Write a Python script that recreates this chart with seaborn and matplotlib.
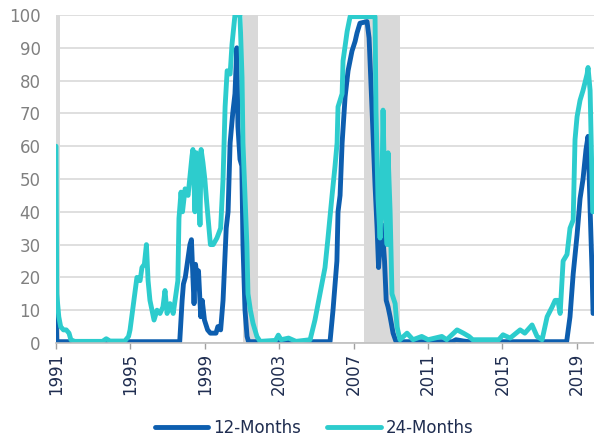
import pandas as pd
import matplotlib
matplotlib.use("Agg")
import matplotlib.pyplot as plt
import seaborn as sns

# 12-month recession probability
m12_year = [1991.00, 1991.04, 1997.65, 1997.78, 1997.85, 1997.95, 1998.05, 1998.20, 1998.28,
            1998.36, 1998.42, 1998.50, 1998.58, 1998.66, 1998.78, 1998.86, 1998.98, 1999.15,
            1999.30, 1999.60, 1999.70, 1999.85, 1999.98, 2000.15, 2000.25, 2000.36, 2000.50,
            2000.62, 2000.72, 2000.78, 2000.89, 2000.99, 2001.05, 2001.16, 2001.27, 2001.35,
            2005.73, 2005.89, 2006.10, 2006.16, 2006.27, 2006.38, 2006.54, 2006.70, 2006.91,
            2007.08, 2007.18, 2007.34, 2007.72, 2007.83, 2007.99, 2008.15, 2008.26, 2008.34,
            2008.42, 2008.53, 2008.66, 2008.75, 2008.85, 2008.96, 2009.12, 2009.28, 2012.30,
            2012.50, 2012.90, 2013.20, 2018.45, 2018.63, 2018.80, 2019.01, 2019.17, 2019.33,
            2019.49, 2019.60, 2019.71, 2019.82, 2019.87]
m12_prob = [11, 0.4, 0.4, 13, 18, 20, 24, 30, 31.5,
            20, 12, 24, 20, 22, 8, 13, 7, 4,
            3, 3, 5, 4, 13, 35, 40, 61, 70,
            76, 90, 66, 56, 54, 30, 10, 2, 0.4,
            0.4, 10, 25, 40, 45, 61, 75, 83, 89,
            92, 94.5, 97.5, 98, 93, 71, 48, 35, 23,
            30, 36, 25, 13, 11, 8, 3, 0.4, 0.4,
            1, 0.6, 0.4, 0.4, 8, 21, 33, 44, 50,
            59, 63, 41, 21, 9]

# 24-month recession probability
m24_year = [1991.00, 1991.04, 1991.15, 1991.25, 1991.40, 1991.55, 1991.70, 1991.80, 1992.00,
            1993.50, 1993.70, 1993.90, 1994.70, 1994.90, 1994.98, 1995.14, 1995.35, 1995.52,
            1995.62, 1995.75, 1995.86, 1995.95, 1996.05, 1996.27, 1996.43, 1996.59, 1996.75,
            1996.86, 1996.97, 1997.13, 1997.30, 1997.45, 1997.55, 1997.61, 1997.72, 1997.80,
            1997.94, 1998.10, 1998.31, 1998.36, 1998.47, 1998.55, 1998.66, 1998.74, 1998.80,
            1998.90, 1999.00, 1999.10, 1999.30, 1999.45, 1999.65, 1999.85, 1999.98, 2000.09,
            2000.20, 2000.36, 2000.46, 2000.62, 2000.89, 2001.00, 2001.05, 2001.26, 2001.32,
            2001.45, 2001.59, 2001.80, 2001.97, 2002.80, 2002.95, 2003.10, 2003.50, 2003.90,
            2004.66, 2004.92, 2005.19, 2005.46, 2005.62, 2005.84, 2006.00, 2006.11, 2006.16,
            2006.38, 2006.43, 2006.65, 2006.81, 2008.15, 2008.20, 2008.31, 2008.42, 2008.53,
            2008.58, 2008.69, 2008.80, 2008.85, 2008.96, 2009.06, 2009.23, 2009.33, 2009.49,
            2009.87, 2010.19, 2010.66, 2011.00, 2011.74, 2012.00, 2012.56, 2012.90, 2013.20,
            2013.40, 2014.80, 2015.03, 2015.41, 2015.95, 2016.20, 2016.59, 2016.86, 2017.13,
            2017.40, 2017.67, 2017.83, 2017.98, 2018.10, 2018.26, 2018.47, 2018.63, 2018.80,
            2018.90, 2019.01, 2019.17, 2019.33, 2019.55, 2019.60, 2019.71, 2019.85]
m24_prob = [60, 15, 8, 5, 4, 4, 3, 1, 0.5,
            0.5, 1.3, 0.6, 0.6, 2, 4, 11, 20, 19,
            23, 24, 30, 19, 13, 7, 10, 9, 11,
            16, 9, 12, 9, 15, 19, 38, 46, 40,
            47, 45, 57, 59, 40, 58, 52, 36, 59,
            55, 50, 43, 30, 30, 32, 35, 50, 72,
            83, 82, 91, 100, 100, 81, 61, 30, 15,
            10, 6, 2, 0.5, 0.8, 2.4, 1, 1.5, 0.5,
            1, 7, 15, 23, 32, 45, 54, 61, 72,
            76, 86, 95, 99.5, 99.5, 71, 44, 32, 51,
            71, 40, 30, 58, 40, 15, 12, 5, 1,
            3, 1, 2, 1, 2, 1, 4, 3, 2,
            1, 1, 2.5, 1.5, 4, 3, 5.5, 2, 1,
            8, 11, 13, 13, 9, 25, 27, 35, 37.5,
            62, 69, 74, 77, 82, 84, 77, 40]

# recessions (shaded)
rec_start = [1990.90, 2001.06, 2007.55]
rec_end = [1991.22, 2001.87, 2009.50]

tick_years = [1991, 1995, 1999, 2003, 2007, 2011, 2015, 2019]
series_names = ["12-Months", "24-Months"]
colors = ["#0D5EAF", "#2DCCCD"]

df = pd.concat([
    pd.DataFrame({"year": m12_year, "prob": m12_prob, "series": series_names[0]}),
    pd.DataFrame({"year": m24_year, "prob": m24_prob, "series": series_names[1]}),
])

sns.set_style("white")
plt.rcParams["font.family"] = ["DejaVu Sans"]

fig = plt.figure(figsize=(5.94, 4.41), dpi=100)
ax = fig.add_axes([56 / 594, 98 / 441, 538 / 594, 328 / 441])

for s, e in zip(rec_start, rec_end):
    ax.axvspan(s, e, color="#D9D9D9", lw=0, zorder=1)

sns.lineplot(data=df, x="year", y="prob", hue="series", hue_order=series_names,
             palette=colors, linewidth=3.5, estimator=None, sort=False,
             legend=False, ax=ax, zorder=3)

ax.set_xlim(1991.0, 2019.92)
ax.set_ylim(0, 100)
ax.set_yticks(range(0, 101, 10))
ax.set_xticks(tick_years)
ax.set_xticklabels([str(y) for y in tick_years], rotation=90)
ax.set_xlabel("")
ax.set_ylabel("")

ax.grid(axis="y", color="#D9D9D9", linewidth=1.2, zorder=0)
ax.set_axisbelow(True)
for side in ["left", "right", "top"]:
    ax.spines[side].set_visible(False)
ax.spines["bottom"].set_color("#BFBFBF")
ax.spines["bottom"].set_linewidth(1.2)
ax.spines["bottom"].set_zorder(4)

ax.tick_params(axis="y", length=0, pad=11, labelsize=12, labelcolor="#808080")
ax.tick_params(axis="x", length=4, width=1, color="#A0A0A0", direction="out",
               pad=3, labelsize=12, labelcolor="#1F2D50", bottom=True)

handles = [plt.Line2D([], [], color=c, linewidth=3.5, solid_capstyle="round") for c in colors]
fig.legend(handles, series_names, loc="center", bbox_to_anchor=(314 / 594, 1 - 428 / 441),
           ncol=2, frameon=False, fontsize=12, labelcolor="#1F2D50",
           handlelength=3.2, handletextpad=0.3, columnspacing=1.6)

fig.savefig("out.png", dpi=100)
